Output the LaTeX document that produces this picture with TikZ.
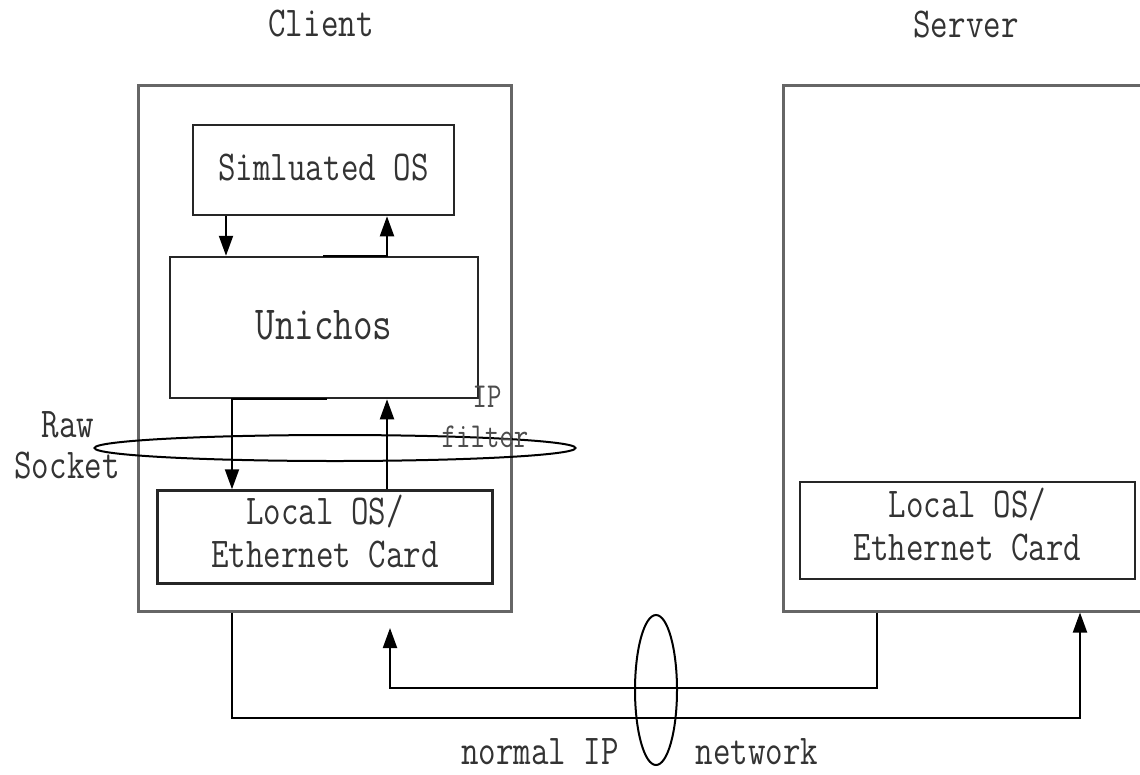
\documentclass[tikz,border=0pt]{standalone}
\usepackage{graphicx}
\usetikzlibrary{positioning,shapes.geometric,arrows.meta}

\newcommand{\tallfont}[1]{\scalebox{1}[1.25]{#1}}

\tikzset{
  outerbox/.style={draw=black!60, line width=3pt, inner sep=0pt},
  innerbox/.style={draw=black!85, line width=2.5pt, inner sep=0pt, align=center,
    text=black!80, font=\fontsize{34}{43}\selectfont\ttfamily},
  txt/.style={inner sep=0pt, text=black!80, font=\fontsize{34}{43}\selectfont\ttfamily},
  smalltxt/.style={inner sep=0pt, text=black!70, font=\fontsize{28}{34}\selectfont\ttfamily},
  conn/.style={line width=2pt, draw=black},
  arr/.style={conn, -{Triangle[length=20pt,width=14pt]}},
  ring/.style={ellipse, draw=black, line width=2pt, inner sep=0pt}
}

\begin{document}
\begin{tikzpicture}[x=1pt, y=-1pt]
\useasboundingbox (0,0) rectangle (1140,774);

% hosts
\node[outerbox, minimum width=373pt, minimum height=526pt] (client) at (324.5,348) {};
\node[outerbox, minimum width=417pt, minimum height=526pt] (server) at (991.5,348) {};
\node[txt] (clientlbl) at (321,24) {\tallfont{Client}};
\node[txt] (serverlbl) at (966,25) {\tallfont{Server}};

% layers
\node[innerbox, minimum width=261pt, minimum height=90pt, text depth=6pt] (sim) at (323.5,170) {\tallfont{Simluated OS}};
\node[innerbox, font=\fontsize{38}{43}\selectfont\ttfamily, minimum width=308pt, minimum height=141pt, text depth=6pt] (uni) at (324,327.5) {\tallfont{Unichos}};
\node[innerbox, minimum width=335pt, minimum height=93pt, text depth=12pt] (clos) at (325,537) {\tallfont{Local OS/}\\\tallfont{Ethernet Card}};
\node[innerbox, minimum width=335pt, minimum height=97pt, text depth=12pt] (srvos) at (967.5,530.5) {\tallfont{Local OS/}\\\tallfont{Ethernet Card}};

% helper columns and rows
\coordinate (xa) at (226,0);
\coordinate (xb) at (387,0);
\coordinate (xc) at (323,0);
\coordinate (xd) at (327,0);
\coordinate (xe) at (232,0);
\coordinate (xf) at (390,0);
\coordinate (xg) at (877,0);
\coordinate (xh) at (1080,0);
\coordinate (ya) at (0,688);
\coordinate (yb) at (0,718);
\coordinate (tipc) at (390,628);

% inside the client
\draw[arr] (sim.south -| xa) -- (uni.north -| xa);
\draw[arr] (uni.north -| xc) -- (uni.north -| xb) -- (sim.south -| xb);
\draw[arr] (uni.south -| xd) -- (uni.south -| xe) -- (clos.north -| xe);
\draw[arr] (clos.north -| xb) -- (uni.south -| xb);

% network
\draw[arr] (server.south -| xg) -- (xg |- ya) -- (xf |- ya) -- (tipc);
\draw[arr] (client.south -| xe) -- (xe |- yb) -- (xh |- yb) -- (server.south -| xh);

% rings and labels
\node[ring, minimum width=481pt, minimum height=26pt] (rawring) at (335,448) {};
\node[ring, minimum width=42pt, minimum height=150pt] (netring) at (656,690) {};
\node[txt] (raw) at (68,425) {\tallfont{Raw}};
\node[txt] (socket) at (67,466) {\tallfont{Socket}};
\node[smalltxt] (ip) at (487,397) {\tallfont{IP}};
\node[smalltxt] (filter) at (485,437) {\tallfont{filter}};
\node[txt] (normal) at (540,752) {\tallfont{normal IP}};
\node[txt] (net) at (757,752) {\tallfont{network}};
\end{tikzpicture}
\end{document}
